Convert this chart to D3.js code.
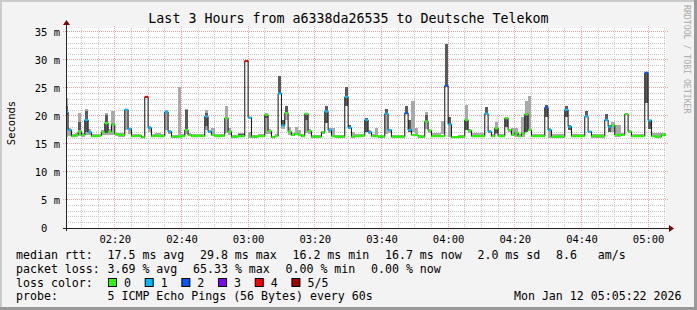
<!DOCTYPE html>
<html>
<head>
<meta charset="utf-8">
<script src="https://cdn.jsdelivr.net/npm/d3@7"></script>
<style>
  html, body { margin: 0; padding: 0; background: #f3f3f3; }
  svg { display: block; }
  text { font-family: "DejaVu Sans Mono", monospace; fill: #000; }
</style>
</head>
<body>
<div class="chart"></div>
<script>
// one sample per minute, starting 02:05, values in ms
const median = [
  20.7, 17.5, 16.4, 16.6, 17.2, 16.6, 19.3, 17.1, 16.4, 16.4,
  16.5, 17.1, 18.7, 17.2, 18.5, 16.8, 16.6, 16.6, 21.1, 17.7,
  16.4, 16.4, 16.5, 16.2, 23.4, 17.9, 16.4, 16.5, 16.4, 16.4,
  20.7, 17.2, 16.3, 16.3, 16.3, 16.4, 17.5, 16.6, 16.4, 16.4,
  16.5, 16.4, 19.9, 17.2, 16.6, 16.4, 16.4, 16.5, 19.6, 17.2,
  16.3, 16.3, 16.4, 16.4, 29.8, 19.7, 16.3, 16.3, 16.4, 16.4,
  20.2, 17.3, 16.2, 16.4, 24.0, 18.3, 20.5, 17.2, 16.6, 16.8,
  16.6, 16.4, 20.4, 17.3, 16.3, 16.3, 16.3, 17.1, 20.8, 17.5,
  16.4, 16.3, 16.3, 16.3, 23.4, 17.9, 16.3, 16.4, 16.4, 16.5,
  19.3, 17.1, 16.4, 16.4, 16.3, 16.3, 20.4, 17.5, 16.3, 16.3,
  16.3, 16.3, 20.5, 17.5, 16.6, 16.6, 16.3, 16.3, 19.0, 17.4,
  16.4, 16.4, 16.4, 16.4, 25.4, 18.5, 16.2, 16.2, 16.3, 16.3,
  19.3, 17.4, 16.4, 16.4, 16.4, 16.4, 20.4, 17.2, 16.4, 17.8,
  16.4, 16.4, 19.6, 17.5, 16.6, 17.0, 16.4, 16.9, 20.3, 17.5,
  16.4, 16.4, 16.4, 16.4, 21.5, 17.5, 16.3, 16.3, 16.3, 16.3,
  21.1, 18.1, 16.4, 16.4, 16.4, 16.4, 19.9, 17.2, 16.4, 16.4,
  16.4, 16.4, 19.3, 18.1, 18.3, 16.6, 16.6, 16.6, 20.3, 17.2,
  16.4, 16.4, 16.4, 16.4, 27.7, 19.2, 16.4, 16.3, 16.3, 16.6,
  16.7
]

// lost pings out of 5 for each sample
const loss = [
  1, 1, 0, 0, 0, 0, 1, 1, 0, 0,
  0, 0, 0, 0, 0, 0, 0, 0, 1, 1,
  0, 0, 0, 0, 4, 1, 0, 0, 0, 0,
  1, 1, 0, 0, 0, 0, 0, 0, 0, 0,
  0, 0, 1, 1, 0, 0, 0, 0, 0, 0,
  0, 0, 0, 0, 4, 1, 0, 0, 0, 0,
  0, 0, 0, 0, 1, 1, 0, 0, 0, 0,
  0, 0, 0, 0, 0, 0, 0, 0, 1, 1,
  0, 0, 0, 0, 1, 1, 0, 0, 0, 0,
  1, 1, 0, 0, 0, 0, 1, 1, 0, 0,
  0, 0, 2, 1, 0, 0, 0, 0, 0, 0,
  0, 0, 0, 0, 2, 1, 0, 0, 0, 0,
  0, 0, 0, 0, 0, 0, 1, 1, 0, 0,
  0, 0, 0, 0, 0, 0, 0, 0, 0, 0,
  0, 0, 0, 0, 2, 1, 0, 0, 0, 0,
  1, 1, 0, 0, 0, 0, 1, 1, 0, 0,
  0, 0, 1, 1, 0, 0, 0, 0, 0, 0,
  0, 0, 0, 0, 2, 1, 0, 0, 0, 0,
  0
]

// outer smoke (lightest ping to slowest ping)
const smokeLo = [
  16.3, 16.4, 16.2, 16.3, 16.5, 16.3, 16.6, 16.6, 16.2, 16.2,
  16.3, 16.6, 16.6, 16.6, 16.6, 16.4, 16.3, 16.3, 17.5, 16.8,
  16.2, 16.2, 16.3, 16.0, null, 17.2, 16.2, 16.2, 16.2, 16.2,
  17.5, 16.8, 16.1, 16.1, 16.3, 16.2, 16.8, 16.4, 16.2, 16.2,
  16.3, 16.2, 17.5, 16.9, 16.6, 16.2, 16.2, 16.3, 16.9, 16.6,
  16.1, 16.1, 16.2, 16.2, null, 16.0, 16.1, 16.1, 16.2, 16.2,
  16.8, 16.8, 16.0, 16.2, 24.0, 17.6, 19.3, 16.6, 16.4, 16.6,
  16.4, 16.2, 17.0, 16.8, 16.1, 16.1, 16.1, 16.8, 18.7, 17.0,
  16.4, 16.1, 16.1, 16.1, 21.7, 17.6, 16.0, 16.2, 16.2, 16.3,
  17.2, 16.8, 16.2, 16.6, 16.1, 16.1, 16.8, 16.9, 16.1, 16.1,
  16.1, 16.1, 20.5, 17.2, 17.2, 16.6, 16.1, 16.1, 17.7, 17.0,
  16.3, 16.3, 16.3, 16.7, 25.4, 16.3, 16.0, 16.0, 16.1, 16.1,
  17.5, 17.0, 16.3, 16.3, 16.3, 16.3, 20.3, 16.9, 16.2, 16.7,
  16.2, 16.2, 18.1, 17.2, 16.6, 16.3, 16.2, 16.3, 17.2, 17.5,
  16.2, 16.2, 16.2, 16.2, 19.9, 16.0, 16.1, 16.1, 16.1, 16.1,
  19.9, 17.5, 16.2, 16.2, 16.2, 16.2, 19.9, 16.9, 16.1, 16.1,
  16.1, 16.1, 19.3, 17.2, 17.2, 16.3, 16.3, 16.4, 20.3, 16.9,
  16.2, 16.2, 16.2, 16.2, 22.3, 17.7, 16.2, 16.1, 16.1, 16.4,
  16.5
]
const smokeHi = [
  23.2, 17.8, 16.8, 16.9, 20.5, 16.9, 21.2, 17.6, 16.7, 16.7,
  16.8, 17.5, 20.5, 17.6, 20.8, 17.0, 16.9, 16.9, 21.1, 17.9,
  16.7, 16.7, 16.8, 16.5, null, 18.2, 16.7, 17.0, 17.0, 16.7,
  21.0, 17.5, 16.6, 16.6, 25.2, 16.7, 21.3, 17.0, 16.7, 16.7,
  16.8, 16.7, 21.0, 17.5, 17.8, 16.7, 16.7, 16.8, 21.7, 17.8,
  16.6, 16.6, 16.9, 16.9, null, 17.2, 16.6, 16.6, 16.7, 16.7,
  20.6, 17.6, 16.5, 16.7, 27.1, 19.3, 21.7, 18.0, 17.0, 18.0,
  17.5, 16.7, 20.4, 17.6, 16.6, 16.6, 16.6, 17.4, 21.8, 17.8,
  17.8, 16.6, 16.6, 16.6, 25.2, 18.3, 17.2, 16.7, 16.7, 16.8,
  19.6, 17.5, 16.7, 17.8, 16.6, 16.6, 21.3, 17.6, 16.6, 16.6,
  16.6, 16.6, 21.7, 19.3, 22.7, 17.8, 16.6, 16.6, 20.7, 17.6,
  16.9, 16.9, 16.9, 19.1, 32.9, 19.9, 16.5, 16.5, 16.6, 16.6,
  22.0, 17.6, 16.9, 16.9, 16.9, 16.9, 21.6, 17.5, 16.7, 19.0,
  16.7, 16.7, 19.6, 17.7, 17.8, 17.8, 16.7, 19.9, 22.7, 23.6,
  16.7, 16.7, 16.7, 16.7, 22.0, 17.8, 16.7, 16.7, 16.7, 16.7,
  21.8, 18.4, 16.7, 16.7, 16.7, 16.7, 20.9, 17.4, 16.7, 16.7,
  16.7, 16.7, 20.3, 18.3, 18.9, 18.4, 18.4, 16.9, 20.6, 17.5,
  16.7, 16.7, 16.7, 16.7, 27.9, 19.2, 17.0, 17.0, 17.0, 16.9,
  17.0
]

// inner smoke (2nd to 4th ping), only where it shows
const coreSample = [0, 4, 6, 12, 15, 36, 42, 52, 53, 60, 64, 65, 66, 72, 78, 84, 85, 90, 96, 102,
  103, 108, 114, 115, 120, 126, 129, 132, 138, 144, 150, 151, 156, 162, 163, 174, 175]
const coreLo = [20.2, 17.5, 17.2, 16.9, 16.6, 17.5, 18.2, 16.3, 16.3, 19.6, 24.0, 18.3, 20.5, 19.2, 18.7, 21.7, 17.8, 17.2, 20.5, 20.5,
  17.2, 18.9, 25.4, 18.5, 17.5, 20.3, 16.9, 18.1, 17.2, 19.9, 19.9, 17.5, 19.9, 19.3, 17.2, 22.3, 17.7]
const coreHi = [21.7, 19.0, 20.8, 20.2, 16.9, 21.1, 20.6, 16.8, 16.8, 20.2, 27.1, 19.3, 21.7, 20.2, 21.8, 25.2, 18.3, 19.6, 21.3, 21.7,
  19.3, 20.1, 32.9, 19.9, 19.3, 21.6, 17.8, 19.6, 20.2, 22.0, 21.8, 18.4, 20.9, 20.3, 18.3, 27.9, 19.2]

const yTicks = [0, 5, 10, 15, 20, 25, 30, 35]
const lossColors = ["#26ff00", "#00b8ff", "#0059ff", "#7e00ff", "#ff0000", "#a10000"]
const lossLabels = ["0", "1", "2", "3", "4", "5/5"]
const rttStats = ["17.5 ms avg", "29.8 ms max", "16.2 ms min", "16.7 ms now", "2.0 ms sd", "8.6   am/s"]
const lossStats = ["3.69 % avg", "65.33 % max", "0.00 % min", "0.00 % now"]

const title = "Last 3 Hours from a6338da26535 to Deutsche Telekom"
const probeText = "5 ICMP Echo Pings (56 Bytes) every 60s"
const stamp = "Mon Jan 12 05:05:22 2026"

const startTime = new Date(2026, 0, 12, 2, 5, 22)
const endTime = new Date(2026, 0, 12, 5, 5, 22)
const firstSample = new Date(2026, 0, 12, 2, 5, 0)
const step = 60 * 1000

const W = 697, H = 310
const plot = { left: 66, right: 666, top: 28, bottom: 228 }

const svg = d3.select(".chart").append("svg")
  .attr("width", W).attr("height", H)
  .attr("viewBox", `0 0 ${W} ${H}`)

// 背景和边框
svg.append("rect").attr("width", W).attr("height", H).attr("fill", "#f3f3f3")
svg.append("rect").attr("x", 0).attr("y", 0).attr("width", W).attr("height", 2).attr("fill", "#cbcbcb")
svg.append("rect").attr("x", 0).attr("y", 0).attr("width", 2).attr("height", H).attr("fill", "#cbcbcb")
svg.append("rect").attr("x", W - 3).attr("y", 0).attr("width", 3).attr("height", H).attr("fill", "#999")
svg.append("rect").attr("x", 0).attr("y", H - 3).attr("width", W).attr("height", 3).attr("fill", "#999")

svg.append("rect")
  .attr("x", plot.left).attr("y", plot.top)
  .attr("width", plot.right - plot.left).attr("height", plot.bottom - plot.top)
  .attr("fill", "#fff")

const x = d3.scaleTime().domain([startTime, endTime]).range([plot.left, plot.right])
const y = d3.scaleLinear().domain([0, 35.7]).range([plot.bottom, plot.top])
const t = (i) => new Date(+firstSample + i * step)
const px = (v) => Math.floor(v) + 0.5

// 网格
const grid = svg.append("g")
const minorY = d3.range(1, 36).filter((v) => v % 5 !== 0)
grid.selectAll(".gy").data(minorY).join("line")
  .attr("x1", plot.left).attr("x2", plot.right)
  .attr("y1", (d) => px(y(d))).attr("y2", (d) => px(y(d)))
  .attr("stroke", "#c8c8c8").attr("stroke-dasharray", "1,1")
const minorX = d3.timeMinute.every(5).range(startTime, endTime).filter((d) => d.getMinutes() % 20 !== 0)
grid.selectAll(".gx").data(minorX).join("line")
  .attr("x1", (d) => px(x(d))).attr("x2", (d) => px(x(d)))
  .attr("y1", plot.top).attr("y2", plot.bottom)
  .attr("stroke", "#c8c8c8").attr("stroke-dasharray", "1,1")
grid.selectAll(".my").data(yTicks.filter((d) => d > 0)).join("line")
  .attr("x1", plot.left - 3).attr("x2", plot.right + 2)
  .attr("y1", (d) => px(y(d))).attr("y2", (d) => px(y(d)))
  .attr("stroke", "#eda3a3").attr("stroke-dasharray", "1,1")
const majorX = d3.timeMinute.every(20).range(startTime, endTime)
grid.selectAll(".mx").data(majorX).join("line")
  .attr("x1", (d) => px(x(d))).attr("x2", (d) => px(x(d)))
  .attr("y1", plot.top - 2).attr("y2", plot.bottom + 3)
  .attr("stroke", "#eda3a3").attr("stroke-dasharray", "1,1")

// 数据
svg.append("clipPath").attr("id", "clip").append("rect")
  .attr("x", plot.left).attr("y", plot.top)
  .attr("width", plot.right - plot.left).attr("height", plot.bottom - plot.top)
const g = svg.append("g").attr("clip-path", "url(#clip)")
const idx = d3.range(median.length)

g.selectAll(".smoke").data(idx.filter((i) => smokeLo[i] != null)).join("rect")
  .attr("x", (i) => x(t(i))).attr("width", (i) => x(t(i + 1)) - x(t(i)))
  .attr("y", (i) => y(smokeHi[i])).attr("height", (i) => y(smokeLo[i]) - y(smokeHi[i]))
  .attr("fill", "#a9a9a9").attr("shape-rendering", "crispEdges")

g.selectAll(".core").data(coreSample).join("rect")
  .attr("x", (i) => x(t(i))).attr("width", (i) => x(t(i + 1)) - x(t(i)))
  .attr("y", (i, k) => y(coreHi[k])).attr("height", (i, k) => y(coreLo[k]) - y(coreHi[k]))
  .attr("fill", "#5a5a5a").attr("shape-rendering", "crispEdges")

const stepPts = idx.map((i) => [t(i), median[i]]).concat([[t(median.length), median[median.length - 1]]])
g.append("path")
  .attr("d", d3.line().x((d) => x(d[0])).y((d) => y(d[1])).curve(d3.curveStepAfter)(stepPts))
  .attr("fill", "none").attr("stroke", "#111").attr("stroke-width", 1)

g.selectAll(".med").data(idx).join("line")
  .attr("x1", (i) => x(t(i))).attr("x2", (i) => x(t(i + 1)))
  .attr("y1", (i) => y(median[i])).attr("y2", (i) => y(median[i]))
  .attr("stroke", (i) => lossColors[loss[i]]).attr("stroke-width", 2.2)

// 坐标轴
svg.append("g")
  .attr("transform", `translate(0,${plot.bottom})`)
  .call(d3.axisBottom(x).ticks(d3.timeMinute.every(20)).tickFormat(d3.timeFormat("%H:%M")).tickSize(0).tickPadding(8))
  .call((a) => a.select(".domain").remove())
  .selectAll("text").attr("font-size", "10.5px").attr("font-family", '"DejaVu Sans Mono", monospace')

svg.append("g")
  .attr("transform", `translate(60,0)`)
  .call(d3.axisLeft(y).tickValues(yTicks).tickFormat((d) => (d === 0 ? "0\u00a0\u00a0" : d + " m")).tickSize(0).tickPadding(0))
  .call((a) => a.select(".domain").remove())
  .selectAll("text").attr("font-size", "10.5px").attr("font-family", '"DejaVu Sans Mono", monospace')

svg.append("line").attr("x1", plot.left - 3).attr("x2", plot.right + 4)
  .attr("y1", plot.bottom + 0.5).attr("y2", plot.bottom + 0.5).attr("stroke", "#222")
svg.append("line").attr("x1", plot.left + 0.5).attr("x2", plot.left + 0.5)
  .attr("y1", plot.bottom + 3).attr("y2", plot.top - 3).attr("stroke", "#222")
svg.append("path")
  .attr("d", `M${plot.right + 3},${plot.bottom - 3} L${plot.right + 8},${plot.bottom + 0.5} L${plot.right + 3},${plot.bottom + 4} Z`)
  .attr("fill", "#7f0000")
svg.append("path")
  .attr("d", `M${plot.left - 3},${plot.top - 3} L${plot.left + 0.5},${plot.top - 8} L${plot.left + 4},${plot.top - 3} Z`)
  .attr("fill", "#7f0000")

// 标题与标签
svg.append("text").attr("x", 348.5).attr("y", 23).attr("text-anchor", "middle")
  .attr("font-size", "13.3px").text(title)
svg.append("text").attr("transform", "translate(15,123) rotate(-90)").attr("text-anchor", "middle")
  .attr("font-size", "10.5px").text("Seconds")
svg.append("text").attr("transform", "translate(684,5) rotate(90)")
  .attr("font-size", "8.2px").style("fill", "#aaa").text("RRDTOOL / TOBI OETIKER")

// 图例
const legend = svg.append("g").attr("font-size", "11.6px")
const rowY = [259, 272.7, 286.5, 300]
const gap = 15.7

function row(label, items, yy) {
  legend.append("text").attr("x", 16).attr("y", yy).text(label)
  let cx = 107.5
  items.forEach((s) => {
    const tx = legend.append("text").attr("x", cx).attr("y", yy).attr("xml:space", "preserve").text(s)
    cx += tx.node().getComputedTextLength() + gap
  })
}
row("median rtt:", rttStats, rowY[0])
row("packet loss:", lossStats, rowY[1])

legend.append("text").attr("x", 16).attr("y", rowY[2]).text("loss color:")
let sx = 108.5
lossLabels.forEach((l, i) => {
  legend.append("rect").attr("x", sx).attr("y", rowY[2] - 8).attr("width", 8).attr("height", 8)
    .attr("fill", lossColors[i]).attr("stroke", "#000")
  const tx = legend.append("text").attr("x", sx + 15.5).attr("y", rowY[2]).text(l)
  sx += 15.5 + tx.node().getComputedTextLength() + 14.2
})

legend.append("text").attr("x", 16).attr("y", rowY[3]).text("probe:")
legend.append("text").attr("x", 107.5).attr("y", rowY[3]).text(probeText)
legend.append("text").attr("x", 681.5).attr("y", rowY[3]).attr("text-anchor", "end").text(stamp)
</script>
</body>
</html>
